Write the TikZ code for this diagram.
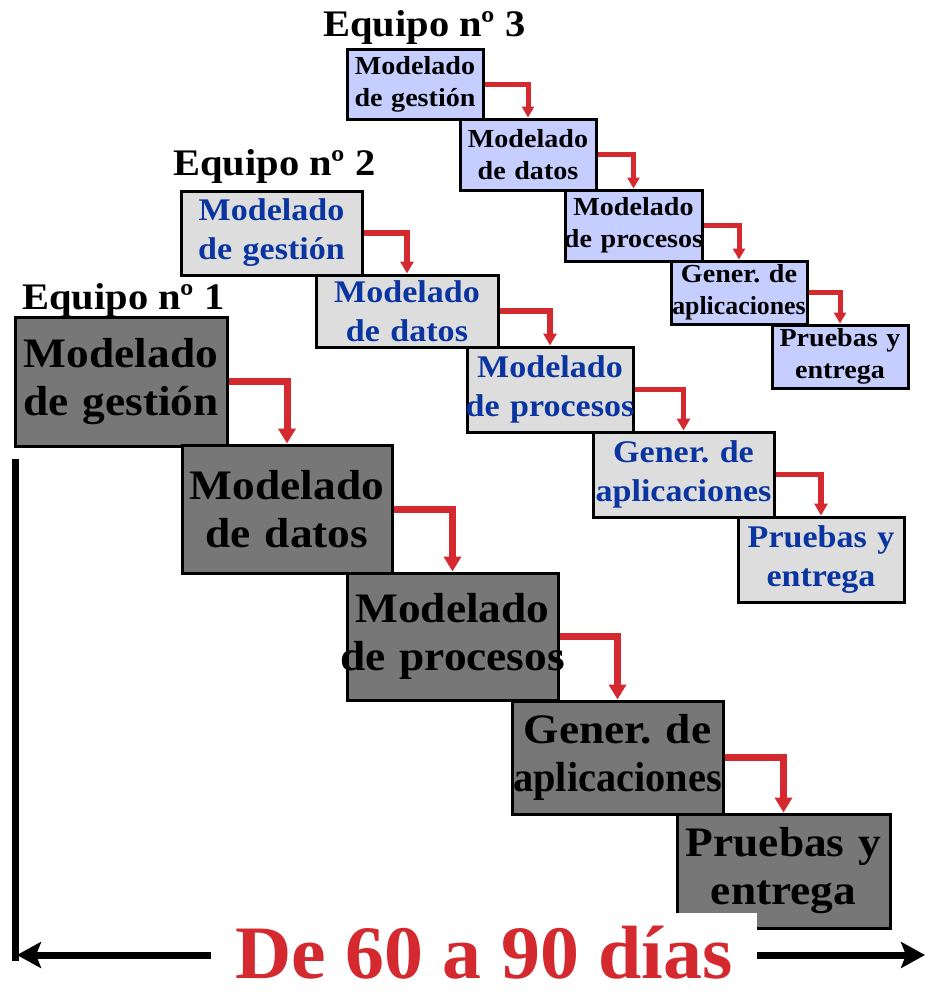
\documentclass[tikz,border=0pt]{standalone}
\usepackage{fontspec}
\setmainfont[FakeStretch=1.08]{Liberation Serif}
\usetikzlibrary{arrows.meta}
\definecolor{dkgray}{HTML}{777777}
\definecolor{ltgray}{HTML}{DDDDDD}
\definecolor{ltblue}{HTML}{C5CEFF}
\definecolor{arrred}{HTML}{D3292F}
\definecolor{txtblue}{HTML}{0A35A0}
\newcommand\lnx[1]{\makebox[0pt]{#1}}
\newcommand\lns[2]{\makebox[0pt]{\scalebox{#1}[1]{#2}}}
\frenchspacing
\begin{document}
\begin{tikzpicture}[x=1pt,y=-1pt,
  boxbase/.style={draw=black, line width=3pt, align=center, inner sep=0pt},
  teamA/.style={boxbase, fill=dkgray, text=black, font=\fontsize{42}{48}\selectfont\bfseries},
  teamB/.style={boxbase, fill=ltgray, text=txtblue, font=\fontsize{31.5}{39}\selectfont\bfseries},
  teamC/.style={boxbase, fill=ltblue, text=black, font=\fontsize{26}{32}\selectfont\bfseries},
  sz/.style 2 args={text width=#1pt, minimum height=#2pt},
  title/.style={anchor=base west, inner sep=0pt, font=\fontsize{37.5}{40}\selectfont\bfseries},
  connA/.style={draw=arrred, line width=7pt, miter limit=10, -{Triangle[width=17pt,length=15pt]}},
  connB/.style={draw=arrred, line width=5.5pt, miter limit=10, -{Triangle[width=13pt,length=12pt]}},
  connC/.style={draw=arrred, line width=5pt, miter limit=10, -{Triangle[width=12pt,length=11pt]}},
  bigline/.style={draw=black, line width=7pt},
  bigtip/.style={-{Stealth[width=26pt,length=24pt,inset=5pt]}},
]
\useasboundingbox (0,0) rectangle (925,996);

% Team titles
\node[title] (t3) at (323,36) {Equipo nº 3};
\node[title] (t2) at (173,175) {Equipo nº 2};
\node[title] (t1) at (22,309) {Equipo nº 1};

% Team 3
\node[teamC, sz={136}{70}] (c1) at (415,84) {\lnx{Modelado}\\\lnx{de gestión}};
\node[teamC, sz={136}{71}] (c2) at (528,154.5) {\lnx{Modelado}\\\lnx{de datos}};
\node[teamC, sz={137}{71}] (c3) at (633.5,225.5) {\lnx{Modelado}\\\lnx{de procesos}};
\node[teamC, sz={136}{63}] (c4) at (739,292.5) {\lnx{Gener. de}\\\lns{0.92}{aplicaciones}};
\node[teamC, sz={136}{63}] (c5) at (840,356.5) {\lnx{Pruebas y}\\\lnx{entrega}};
\draw[connC] (c1.east) -| (c2.north);
\draw[connC] (c2.east) -| (c3.north);
\draw[connC] (c3.east) -| (c4.north);
\draw[connC] (c4.east) -| (c5.north);

% Team 2
\node[teamB, sz={181}{84}] (b1) at (271.5,233) {\lnx{Modelado}\\\lnx{de gestión}};
\node[teamB, sz={182}{72}] (b2) at (407,311) {\lnx{Modelado}\\\lnx{de datos}};
\node[teamB, sz={166}{85}] (b3) at (550,389.5) {\lnx{Modelado}\\\lnx{de procesos}};
\node[teamB, sz={181}{85}] (b4) at (683.5,474.5) {\lnx{Gener. de}\\\lnx{aplicaciones}};
\node[teamB, sz={166}{85}] (b5) at (821,559.5) {\lnx{Pruebas y}\\\lnx{entrega}};
\draw[connB] (b1.east) -| (b2.north);
\draw[connB] (b2.east) -| (b3.north);
\draw[connB] (b3.east) -| (b4.north);
\draw[connB] (b4.east) -| (b5.north);

% Team 1
\node[teamA, sz={212}{129}] (a1) at (121,381.5) {\lnx{Modelado}\\\lnx{de gestión}};
\node[teamA, sz={210}{128}] (a2) at (287,509) {\lnx{Modelado}\\\lnx{de datos}};
\node[teamA, sz={211}{127}] (a3) at (452.5,636.5) {\lnx{Modelado}\\\lnx{de procesos}};
\node[teamA, sz={211}{113}] (a4) at (617.5,757.5) {\lnx{Gener. de}\\\lns{0.89}{aplicaciones}};
\node[teamA, sz={213}{114}] (a5) at (783.5,871) {\lnx{Pruebas y}\\\lnx{entrega}};
\draw[connA] (a1.east) -| (a2.north);
\draw[connA] (a2.east) -| (a3.north);
\draw[connA] (a3.east) -| (a4.north);
\draw[connA] (a4.east) -| (a5.north);

% Time span
\node[fill=white, minimum width=546pt, minimum height=80pt, inner sep=0pt, text=arrred,
      font=\fontsize{75.5}{76}\selectfont\bfseries] (dias) at (484,953)
      {\scalebox{0.955}[1]{De 60 a 90 días}};
\coordinate (vtop) at (15.5,459);
\coordinate (vbot) at (15.5,961);
\coordinate (ltip) at (17,955);
\coordinate (rtip) at (925,955);
\draw[bigline] (vtop) -- (vbot);
\draw[bigline, bigtip] (dias.west |- ltip) -- (ltip);
\draw[bigline, bigtip] (dias.east |- rtip) -- (rtip);
\end{tikzpicture}
\end{document}
